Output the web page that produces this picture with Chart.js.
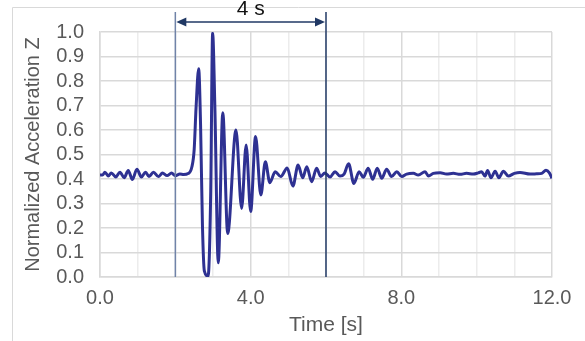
<!DOCTYPE html>
<html>
<head>
<meta charset="utf-8">
<script src="https://cdn.jsdelivr.net/npm/chart.js@4.4.0/dist/chart.umd.min.js"></script>
<style>
  html, body { margin: 0; padding: 0; background: #fff; }
  #wrap { width: 585px; height: 341px; position: relative; }
</style>
</head>
<body>
<div id="wrap"><canvas id="accelChart"></canvas></div>
<script>
// time stamps [s] and normalized Z acceleration
const timeSec = [
  0.00, 0.08, 0.13, 0.22, 0.30, 0.42, 0.53, 0.64, 0.75, 0.86, 0.98, 1.10, 1.21, 1.30,
  1.42, 1.55, 1.66, 1.78, 1.90, 2.00, 2.12, 2.22, 2.34, 2.44, 2.50, 2.55, 2.62, 2.67,
  2.72, 2.77, 2.87, 2.94, 2.99, 3.05, 3.14, 3.26, 3.39, 3.61, 3.76, 3.88, 4.00, 4.13,
  4.27, 4.39, 4.51, 4.65, 4.80, 4.97, 5.12, 5.26, 5.38, 5.49, 5.62, 5.75, 5.86, 5.97,
  6.11, 6.24, 6.37, 6.48, 6.60, 6.74, 6.88, 6.99, 7.12, 7.24, 7.36, 7.48, 7.61, 7.74,
  7.88, 8.01, 8.14, 8.32, 8.45, 8.63, 8.72, 8.85, 9.03, 9.20, 9.38, 9.56, 9.73, 9.91,
  10.04, 10.13, 10.22, 10.29, 10.38, 10.49, 10.59, 10.71, 10.84, 11.00, 11.15, 11.42,
  11.59, 11.73, 11.84, 11.93, 12.00
];
const accelZ = [
  0.416, 0.418, 0.428, 0.412, 0.425, 0.408, 0.428, 0.405, 0.435, 0.398, 0.440, 0.408, 0.428, 0.410,
  0.428, 0.410, 0.424, 0.414, 0.424, 0.414, 0.420, 0.418, 0.422, 0.450, 0.520, 0.690, 0.850, 0.620,
  0.210, 0.025, 0.003, 0.350, 0.995, 0.690, 0.058, 0.670, 0.178, 0.600, 0.280, 0.539, 0.267, 0.573,
  0.335, 0.470, 0.385, 0.430, 0.410, 0.445, 0.371, 0.457, 0.405, 0.450, 0.389, 0.444, 0.410, 0.425,
  0.408, 0.430, 0.412, 0.420, 0.462, 0.382, 0.430, 0.407, 0.444, 0.399, 0.444, 0.403, 0.440, 0.410,
  0.430, 0.410, 0.420, 0.423, 0.416, 0.430, 0.412, 0.423, 0.426, 0.420, 0.423, 0.419, 0.423, 0.420,
  0.425, 0.430, 0.412, 0.435, 0.405, 0.432, 0.405, 0.432, 0.412, 0.423, 0.427, 0.420,
  0.421, 0.423, 0.436, 0.425, 0.403
];
const xLabelStep = 4;
const markerTimes = [2, 6];
const spanLabel = '4 s';

const points = timeSec.map((t, i) => ({ x: t, y: accelZ[i] }));

// light frame around the whole figure
const framePlugin = {
  id: 'frame',
  beforeDraw(chart) {
    const ctx = chart.ctx;
    ctx.save();
    ctx.strokeStyle = '#d9d9d9';
    ctx.lineWidth = 1;
    ctx.beginPath();
    ctx.moveTo(12.5, chart.height);
    ctx.lineTo(12.5, 7.5);
    ctx.lineTo(chart.width, 7.5);
    ctx.stroke();
    ctx.restore();
  }
};

// the two vertical markers with the dimension arrow and its label
const markerPlugin = {
  id: 'markers',
  afterDatasetsDraw(chart) {
    const { ctx, scales: { x, y } } = chart;
    const x1 = x.getPixelForValue(markerTimes[0]);
    const x2 = x.getPixelForValue(markerTimes[1]);
    const bottom = y.getPixelForValue(0);
    const top = y.getPixelForValue(1) - 20;
    const arrowY = top + 10;
    ctx.save();
    ctx.lineWidth = 1.5;
    ctx.strokeStyle = '#7083a8';
    ctx.beginPath(); ctx.moveTo(x1, top); ctx.lineTo(x1, bottom); ctx.stroke();
    ctx.strokeStyle = '#203864';
    ctx.beginPath(); ctx.moveTo(x2, top); ctx.lineTo(x2, bottom); ctx.stroke();

    ctx.strokeStyle = '#203864';
    ctx.fillStyle = '#203864';
    ctx.beginPath(); ctx.moveTo(x1 + 8, arrowY); ctx.lineTo(x2 - 8, arrowY); ctx.stroke();
    ctx.beginPath();
    ctx.moveTo(x1 + 1, arrowY); ctx.lineTo(x1 + 11, arrowY - 4.5); ctx.lineTo(x1 + 11, arrowY + 4.5);
    ctx.closePath(); ctx.fill();
    ctx.beginPath();
    ctx.moveTo(x2 - 1, arrowY); ctx.lineTo(x2 - 11, arrowY - 4.5); ctx.lineTo(x2 - 11, arrowY + 4.5);
    ctx.closePath(); ctx.fill();

    ctx.fillStyle = '#111';
    ctx.font = '21px "Liberation Sans", Arial, sans-serif';
    ctx.textAlign = 'center';
    ctx.textBaseline = 'middle';
    ctx.fillText(spanLabel, (x1 + x2) / 2, arrowY - 13);
    ctx.restore();
  }
};

const tickFont = { family: '"Liberation Sans", Arial, sans-serif', size: 20 };

new Chart(document.getElementById('accelChart'), {
  type: 'line',
  data: {
    datasets: [{
      data: points,
      borderColor: '#2e3192',
      borderWidth: 3,
      pointRadius: 0,
      fill: false,
      cubicInterpolationMode: 'monotone'
    }]
  },
  options: {
    responsive: true,
    maintainAspectRatio: false,
    animation: false,
    devicePixelRatio: 1,
    layout: { padding: { left: 12, top: 32, right: 33, bottom: 0 } },
    plugins: { legend: { display: false }, tooltip: { enabled: false } },
    scales: {
      x: {
        type: 'linear',
        min: 0,
        max: 12,
        afterFit: (s) => { s.height = 64; },
        border: { color: '#d9d9d9', width: 1.5 },
        grid: {
          drawTicks: false,
          lineWidth: 1.5,
          color: (c) => (c.tick && c.tick.value % xLabelStep === 0) ? '#d9d9d9' : '#ececec'
        },
        ticks: {
          stepSize: 1,
          autoSkip: false,
          maxRotation: 0,
          padding: 9,
          color: '#595959',
          font: tickFont,
          callback: (v) => v % xLabelStep === 0 ? v.toFixed(1) : ''
        },
        title: {
          display: true,
          text: 'Time [s]',
          color: '#595959',
          font: { family: tickFont.family, size: 21 },
          padding: { top: 0, bottom: 3 }
        }
      },
      y: {
        min: 0,
        max: 1,
        afterFit: (s) => { s.width = 88; },
        border: { color: '#d9d9d9', width: 1.5 },
        grid: { drawTicks: false, lineWidth: 1.5, color: '#d9d9d9' },
        ticks: {
          stepSize: 0.1,
          autoSkip: false,
          padding: 16,
          color: '#595959',
          font: tickFont,
          callback: (v) => v.toFixed(1)
        },
        title: {
          display: true,
          text: 'Normalized Acceleration Z',
          color: '#595959',
          font: { family: tickFont.family, size: 20 },
          padding: { top: 9, bottom: 0 }
        }
      }
    }
  },
  plugins: [framePlugin, markerPlugin]
});
</script>
</body>
</html>
